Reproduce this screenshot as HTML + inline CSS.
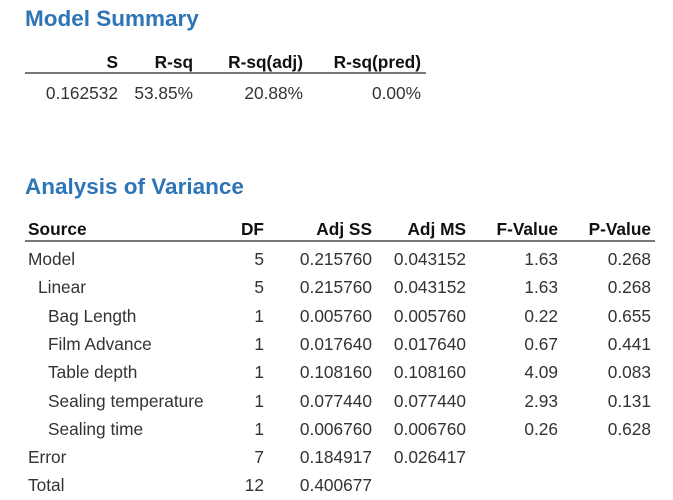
<!DOCTYPE html>
<html><head><meta charset="utf-8"><style>
body{margin:0;width:673px;height:500px;background:#fff;position:relative;overflow:hidden;font-family:"Liberation Sans",sans-serif;color:#222}
.t{position:absolute;font-size:22.5px;font-weight:bold;color:#2e75b6;left:25px}
.c{position:absolute;font-size:17.3px;white-space:nowrap;line-height:20px}
.r{text-align:right}
.h{font-weight:bold;color:#111}
.v{color:#333}
.ln{position:absolute;height:2px;background:#777}
</style></head><body>
<div class="t" style="top:6px">Model Summary</div>
<div class="c r h" style="top:52px;left:0;width:118px">S</div>
<div class="c r h" style="top:52px;left:0;width:193px">R-sq</div>
<div class="c r h" style="top:52px;left:0;width:303px">R-sq(adj)</div>
<div class="c r h" style="top:52px;left:0;width:421px">R-sq(pred)</div>
<div class="ln" style="top:72px;left:25px;width:401px"></div>
<div class="c r v" style="top:83px;left:0;width:118px">0.162532</div>
<div class="c r v" style="top:83px;left:0;width:193px">53.85%</div>
<div class="c r v" style="top:83px;left:0;width:303px">20.88%</div>
<div class="c r v" style="top:83px;left:0;width:421px">0.00%</div>

<div class="t" style="top:174px">Analysis of Variance</div>
<div class="c h" style="top:219px;left:28px">Source</div>
<div class="c r h" style="top:219px;left:0;width:264px">DF</div>
<div class="c r h" style="top:219px;left:0;width:372px">Adj SS</div>
<div class="c r h" style="top:219px;left:0;width:466px">Adj MS</div>
<div class="c r h" style="top:219px;left:0;width:558px">F-Value</div>
<div class="c r h" style="top:219px;left:0;width:651px">P-Value</div>
<div class="ln" style="top:240px;left:25px;width:630px"></div>
<div id="rows"></div>
<script>
var d=[["Model",28,"5","0.215760","0.043152","1.63","0.268"],
["Linear",38,"5","0.215760","0.043152","1.63","0.268"],
["Bag Length",48,"1","0.005760","0.005760","0.22","0.655"],
["Film Advance",48,"1","0.017640","0.017640","0.67","0.441"],
["Table depth",48,"1","0.108160","0.108160","4.09","0.083"],
["Sealing temperature",48,"1","0.077440","0.077440","2.93","0.131"],
["Sealing time",48,"1","0.006760","0.006760","0.26","0.628"],
["Error",28,"7","0.184917","0.026417","",""],
["Total",28,"12","0.400677","","",""]];
var rs=[264,372,466,558,651],h="";
d.forEach(function(r,i){var y=249+i*28.3;
h+='<div class="c v" style="top:'+y+'px;left:'+r[1]+'px">'+r[0]+'</div>';
for(var j=0;j<5;j++)h+='<div class="c r v" style="top:'+y+'px;left:0;width:'+rs[j]+'px">'+r[j+2]+'</div>';});
document.getElementById("rows").innerHTML=h;
</script>
</body></html>
